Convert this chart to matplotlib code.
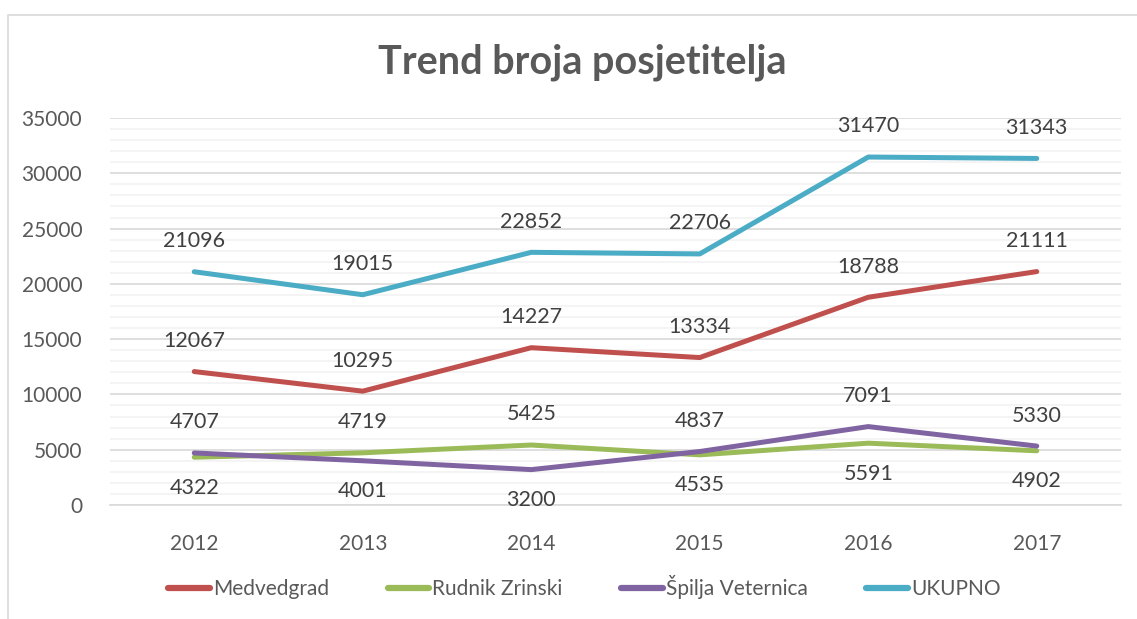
import matplotlib.pyplot as plt
from matplotlib.patches import Rectangle
from matplotlib.ticker import MultipleLocator

# podaci
godine = ['2012', '2013', '2014', '2015', '2016', '2017']
medvedgrad = [12067, 10295, 14227, 13334, 18788, 21111]
rudnik = [4322, 4719, 5425, 4535, 5591, 4902]
veternica = [4707, 4001, 3200, 4837, 7091, 5330]
ukupno = [21096, 19015, 22852, 22706, 31470, 31343]

# strana oznake (1 iznad, -1 ispod)
strana_rudnik = [-1, 1, 1, -1, -1, -1]
strana_veternica = [1, -1, -1, 1, 1, 1]

siva = '#595959'
plt.rcParams['font.family'] = ['Lato', 'DejaVu Sans']

fig = plt.figure(figsize=(11.37, 6.19), dpi=100)
ax = fig.add_axes([110 / 1137, 1 - 505 / 619, (1121 - 110) / 1137, (505 - 118) / 619])

# okvir grafikona
fig.patches.append(Rectangle((8 / 1137, -0.05), 1.1, 1 - 15 / 619 + 0.05,
                             transform=fig.transFigure, fill=False,
                             edgecolor='#D9D9D9', linewidth=1.2))

x = range(len(godine))
serije = [
    ('Medvedgrad', medvedgrad, '#C0504D', [1] * 6),
    ('Rudnik Zrinski', rudnik, '#9BBB59', strana_rudnik),
    ('Špilja Veternica', veternica, '#8064A2', strana_veternica),
    ('UKUPNO', ukupno, '#4BACC6', [1] * 6),
]
for ime, vrijednosti, boja, strane in serije:
    ax.plot(x, vrijednosti, color=boja, linewidth=3.6, label=ime,
            solid_capstyle='round', solid_joinstyle='round')
    for xi, v, s in zip(x, vrijednosti, strane):
        ax.annotate(str(v), (xi, v), xytext=(0, 22 * s), textcoords='offset points',
                    ha='center', va='center', fontsize=15.5, color='#404040')

ax.set_xlim(-0.5, 5.5)
ax.set_ylim(0, 35000)
ax.set_xticks(list(x))
ax.set_xticklabels(godine)
ax.yaxis.set_major_locator(MultipleLocator(5000))
ax.yaxis.set_minor_locator(MultipleLocator(1000))
ax.grid(axis='y', which='major', color='#D9D9D9', linewidth=1.2)
ax.grid(axis='y', which='minor', color='#F2F2F2', linewidth=1.2)
ax.set_axisbelow(True)
for sp in ['top', 'right', 'left']:
    ax.spines[sp].set_visible(False)
ax.spines['bottom'].set_color('#D9D9D9')
ax.spines['bottom'].set_linewidth(1.2)
ax.tick_params(axis='both', which='both', length=0, labelsize=15, labelcolor=siva)
ax.tick_params(axis='x', pad=21)
ax.tick_params(axis='y', pad=20)

fig.text(0.512, 1 - 62 / 619, 'Trend broja posjetitelja', ha='center', va='center',
         fontsize=28.5, fontweight='bold', color=siva)

fig.legend(loc='center', bbox_to_anchor=(0.514, 1 - 587 / 619), ncol=4, frameon=False,
           fontsize=15, labelcolor=siva, handlelength=2.0, handletextpad=0.15,
           columnspacing=2.8)
for ln in fig.legends[0].get_lines():
    ln.set_linewidth(4.5)

fig.savefig('out.png', dpi=100)
